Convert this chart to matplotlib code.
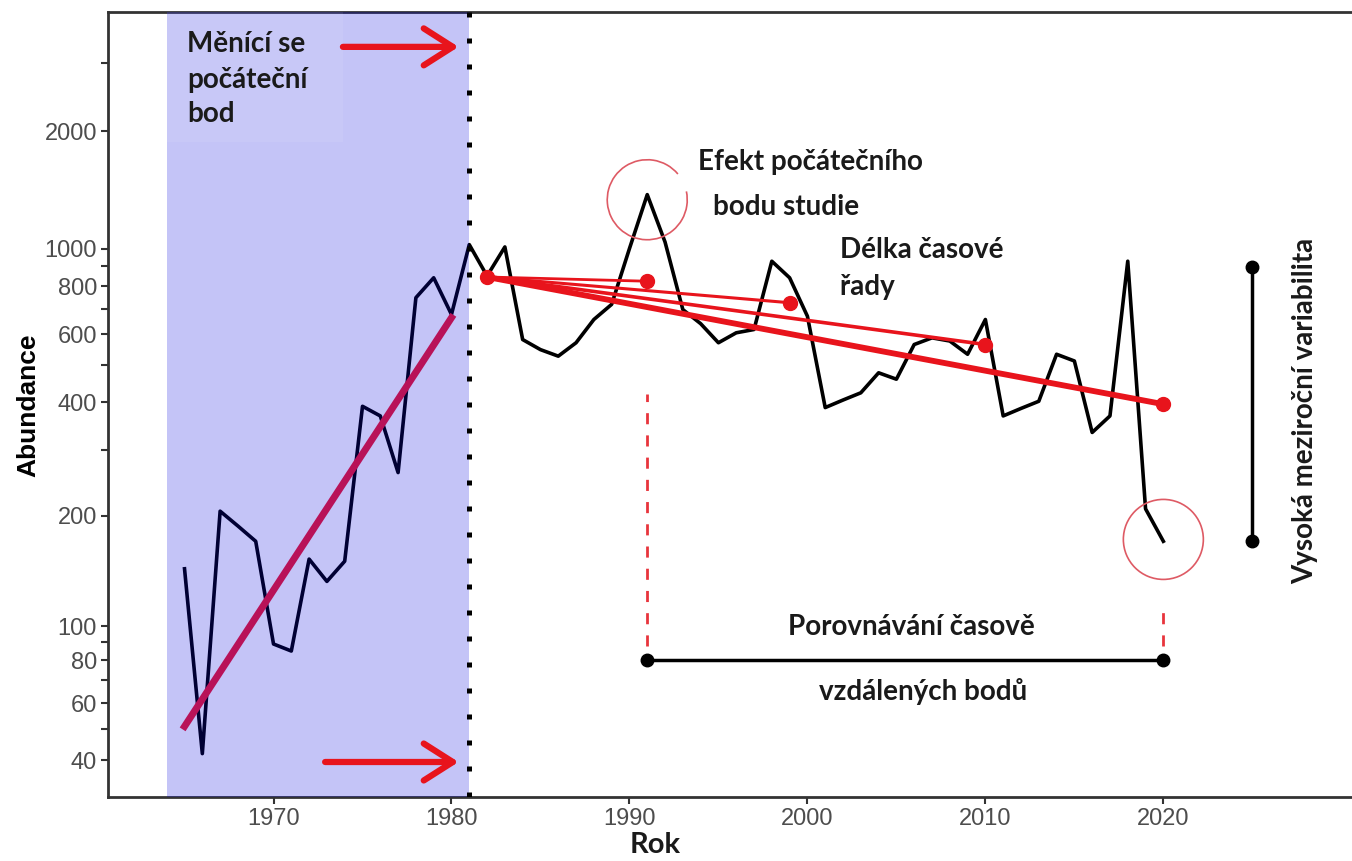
import numpy as np
import matplotlib
matplotlib.use('Agg')
import matplotlib.pyplot as plt
import matplotlib.transforms as mtransforms
from matplotlib.patches import Arc, Rectangle

# Abundance time series
years = list(range(1965, 2021))
abundance = [144, 42, 206, 188, 171, 89, 85, 153, 133, 151,
             390, 368, 261, 747, 841, 676, 1024, 850, 1010, 582,
             548, 527, 571, 656, 718, 1000, 1377, 1040, 696, 640,
             571, 606, 618, 928, 841, 669, 387, 405, 423, 477,
             459, 565, 588, 577, 533, 656, 368, 385, 402, 533,
             512, 333, 368, 928, 209, 171]

# Trend inside the shaded (early) period
trend_years = [1965, 1980]
trend_values = [51, 663]

# Trends from the changing start point to different end years
fan_start_year = 1982
fan_start_value = 845
fan_end_years = [1991, 1999, 2010, 2020]
fan_end_values = [824, 725, 565, 395]
fan_widths = [2.0, 2.2, 2.6, 4.2]

# Annotation bars
span_years = [1991, 2020]
span_value = 80
var_year = 2025
var_values = [171, 894]
dash_top = [419, 114]
dash_bottom = 88

y_major = [40, 60, 80, 100, 200, 400, 600, 800, 1000, 2000]
y_minor = [50, 70, 90, 300, 500, 700, 900, 3000]
x_ticks = [1970, 1980, 1990, 2000, 2010, 2020]

W, H = 1352, 861
fig = plt.figure(figsize=(W / 100, H / 100), dpi=100)
ax = fig.add_axes([108 / W, 64 / H, 1 - 108 / W, (861 - 12 - 64) / H])


def fwd(v):
    return np.log10(np.maximum(v, -9.999) + 10)


def inv(t):
    return 10 ** t - 10


ax.set_yscale('function', functions=(fwd, inv))
ax.set_xlim(1960.7, 2030.6)
ax.set_ylim(30.3, 4045)

red = '#e8141c'

# main series
ax.plot(years, abundance, color='black', lw=2.6, zorder=2)
ax.plot(trend_years, trend_values, color='#f01830', lw=5, zorder=2)

for ye, ve, w in zip(fan_end_years, fan_end_values, fan_widths):
    ax.plot([fan_start_year, ye], [fan_start_value, ve], color=red, lw=w, zorder=3)
ax.plot(fan_end_years, fan_end_values, 'o', color=red, ms=10, zorder=3)
ax.plot([fan_start_year], [fan_start_value], 'o', color=red, ms=10, zorder=3)

# shaded start period (drawn over the lines, like the original)
ax.axvspan(1964, 1981, color='#0000e0', alpha=0.23, lw=0, zorder=4)
ax.add_patch(Rectangle((1964, 1882), 1973.9 - 1964, 4045 - 1882, color='white',
                       alpha=0.07, lw=0, zorder=4))
ax.axvline(1981, color='black', lw=3.6, ls=(0, (1, 4.2)), zorder=5)

# dashed red guides and black bars
ax.plot([span_years[0]] * 2, [dash_bottom, dash_top[0]], color='#e8343c', lw=2, ls=(0, (4, 4)), zorder=3)
ax.plot([span_years[1]] * 2, [dash_bottom, dash_top[1]], color='#e8343c', lw=2, ls=(0, (4, 4)), zorder=3)
ax.plot(span_years, [span_value] * 2, color='black', lw=2.5, marker='o', ms=9, zorder=3)
ax.plot([var_year] * 2, var_values, color='black', lw=2.5, marker='o', ms=9, zorder=3)

# circles around the 1991 peak and 2020 endpoint
for (cx, cy, t1, t2) in [(1991, 1336, 40, 372), (2020, 173, 0, 360)]:
    tr = fig.dpi_scale_trans + mtransforms.ScaledTranslation(cx, cy, ax.transData)
    ax.add_patch(Arc((0, 0), 0.80, 0.80, theta1=t1, theta2=t2, transform=tr,
                     color='#de5a64', lw=1.2, zorder=3))

# arrows pointing at the start line
for (x0, x1, yv) in [(1973.9, 1980.4, 3294), (1972.9, 1980.4, 39.5)]:
    ax.annotate('', xy=(x1, yv), xytext=(x0, yv),
                arrowprops=dict(arrowstyle='->,head_length=1.1,head_width=0.7',
                                color=red, lw=4.5, mutation_scale=19,
                                shrinkA=0, shrinkB=0), zorder=6)

# axes styling
for s in ['left', 'bottom', 'top']:
    ax.spines[s].set_color('#333333')
    ax.spines[s].set_linewidth(2)
ax.spines['right'].set_visible(False)
ax.set_xticks(x_ticks)
ax.set_yticks(y_major)
ax.set_yticklabels([str(v) for v in y_major])
ax.set_yticks(y_minor, minor=True)
ax.set_yticklabels([], minor=True)
ax.tick_params(axis='both', which='both', length=5, width=1.5, color='#333333',
               labelsize=17, labelcolor='#4d4d4d', pad=3)
ax.tick_params(axis='x', which='minor', length=0)
for lab in ax.get_xticklabels() + ax.get_yticklabels():
    lab.set_fontfamily('Liberation Sans')

txt = dict(fontfamily='Lato', fontweight='bold', color='#1a1a1a', fontsize=20)


def ftext(x, y, s, **kw):
    opts = dict(txt)
    opts.update(kw)
    fig.text(x / W, 1 - y / H, s, **opts)


ftext(187, 52, 'Měnící se', va='baseline', zorder=7)
ftext(187, 88, 'počáteční', va='baseline', zorder=7)
ftext(187, 122, 'bod', va='baseline', zorder=7)
ftext(698, 170, 'Efekt počátečního', va='baseline')
ftext(713, 215, 'bodu studie', va='baseline')
ftext(840, 258, 'Délka časové', va='baseline')
ftext(840, 295, 'řady', va='baseline')
ftext(911, 635, 'Porovnávání časově', va='baseline', ha='center')
ftext(923, 700, 'vzdálených bodů', va='baseline', ha='center')
ftext(1305, 411, 'Vysoká meziroční variabilita', va='center', ha='center', rotation=90)
ftext(655, 845, 'Rok', va='center', ha='center', fontsize=21)
fig.text(28 / W, 1 - 405 / H, 'Abundance', rotation=90, va='center', ha='center',
         fontfamily='Liberation Sans', fontweight='bold', fontsize=19, color='black')

fig.savefig('out.png', dpi=100)
